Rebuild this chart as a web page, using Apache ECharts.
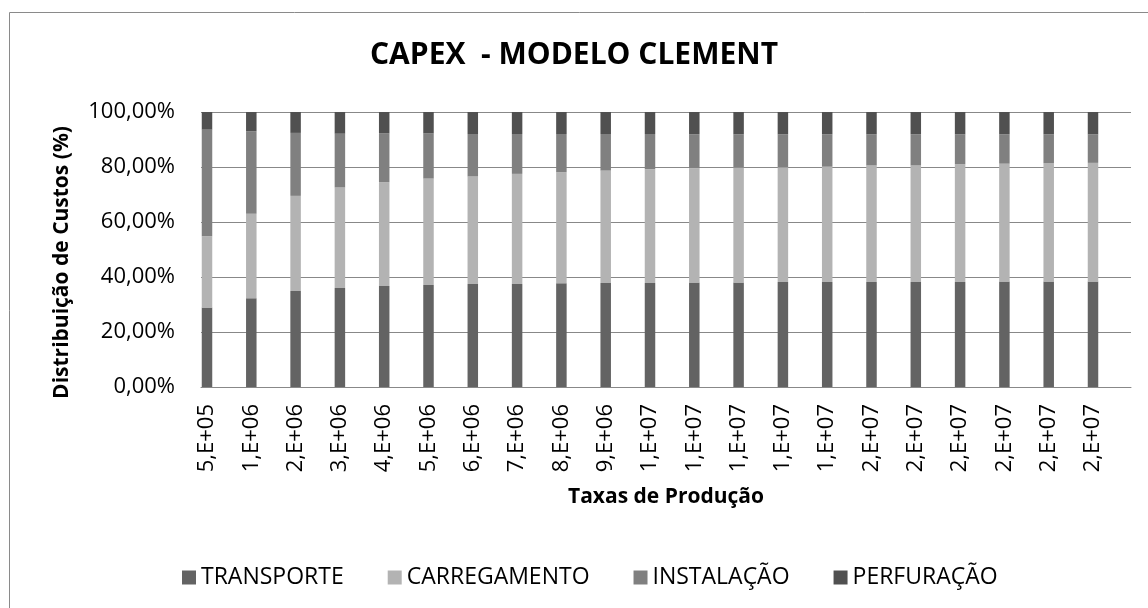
<!DOCTYPE html>
<html>
<head>
<meta charset="utf-8">
<title>CAPEX - MODELO CLEMENT</title>
<script src="https://cdn.jsdelivr.net/npm/echarts@6/dist/echarts.min.js"></script>
<style>
    html, body { margin: 0; padding: 0; background: #fff; }
    #chart { width: 1148px; height: 608px; }
</style>
</head>
<body>
<div id="chart"></div>
<script>
// taxas de producao (eixo x)
var categorias = ['5,E+05', '1,E+06', '2,E+06', '3,E+06', '4,E+06', '5,E+06', '6,E+06', '7,E+06', '8,E+06', '9,E+06',
    '1,E+07', '1,E+07', '1,E+07', '1,E+07', '1,E+07', '2,E+07', '2,E+07', '2,E+07', '2,E+07', '2,E+07', '2,E+07'];

// distribuicao de custos (%) por componente
var transporte = [28.9, 32.3, 34.9, 36.0, 36.7, 37.1, 37.5, 37.5, 37.7, 37.8, 37.8, 38.0, 38.0, 38.2, 38.2, 38.2, 38.2, 38.2, 38.4, 38.4, 38.4];
var carregamento = [25.9, 30.7, 34.6, 36.6, 37.7, 38.7, 39.1, 40.0, 40.4, 40.9, 41.4, 41.5, 41.8, 41.7, 41.9, 42.4, 42.4, 42.8, 42.8, 42.9, 43.1];
var instalacao = [38.8, 30.0, 22.9, 19.5, 17.8, 16.4, 15.4, 14.5, 13.9, 13.3, 12.8, 12.4, 12.1, 12.0, 11.8, 11.3, 11.3, 10.9, 10.7, 10.6, 10.4];
var perfuracao = [6.4, 7.0, 7.6, 7.9, 7.8, 7.8, 8.0, 8.0, 8.0, 8.0, 8.0, 8.1, 8.1, 8.1, 8.1, 8.1, 8.1, 8.1, 8.1, 8.1, 8.1];

var nomes = ['TRANSPORTE', 'CARREGAMENTO', 'INSTALAÇÃO', 'PERFURAÇÃO'];
var cores = ['#636363', '#b3b3b3', '#808080', '#505050'];
var ticksY = [0, 20, 40, 60, 80, 100];

var fonte = "'Open Sans', 'Liberation Sans', sans-serif";

var myChart = echarts.init(document.getElementById('chart'));

function serie(nome, dados, cor) {
    return {
        name: nome,
        type: 'bar',
        stack: 'total',
        xAxisIndex: 1,
        yAxisIndex: 1,
        barWidth: 10.5,
        data: dados,
        itemStyle: { color: cor },
        emphasis: { disabled: true }
    };
}

// grid 0: grade e eixo y ; grid 1: barras (deslocadas como no original)
var option = {
    animation: false,
    backgroundColor: '#fff',
    color: cores,
    textStyle: { fontFamily: fonte },
    title: {
        text: 'CAPEX  - MODELO CLEMENT',
        left: 'center',
        top: 35,
        textStyle: { fontFamily: fonte, fontSize: 30, fontWeight: 'bold', color: '#000' }
    },
    legend: {
        left: 182,
        top: 566,
        padding: 0,
        itemWidth: 14,
        itemHeight: 14,
        itemGap: 44,
        icon: 'rect',
        data: nomes,
        textStyle: { fontFamily: fonte, fontSize: 23, color: '#000' }
    },
    grid: [
        { left: 201, right: 17, top: 112, bottom: 221 },
        { left: 184.85, right: 32.85, top: 112, bottom: 221 }
    ],
    xAxis: [{
        gridIndex: 0,
        type: 'category',
        data: categorias,
        name: 'Taxas de Produção',
        nameLocation: 'middle',
        nameGap: 100,
        nameMoveOverlap: false,
        nameTextStyle: { fontFamily: fonte, fontSize: 21, fontWeight: 'bold', color: '#000' },
        axisLine: { lineStyle: { color: '#888', width: 1 } },
        axisTick: { show: false },
        axisLabel: { show: false }
    }, {
        gridIndex: 1,
        type: 'category',
        data: categorias,
        axisLine: { show: false },
        axisTick: { show: false },
        axisLabel: {
            interval: 0,
            rotate: 90,
            margin: 17,
            fontFamily: fonte,
            fontSize: 22,
            color: '#000'
        }
    }],
    yAxis: [{
        gridIndex: 0,
        type: 'value',
        min: ticksY[0],
        max: ticksY[ticksY.length - 1],
        interval: 20,
        name: 'Distribuição de Custos (%)',
        nameLocation: 'middle',
        nameGap: 128,
        nameMoveOverlap: false,
        nameTextStyle: { fontFamily: fonte, fontSize: 21, fontWeight: 'bold', color: '#000', padding: [0, 26, 0, 0] },
        axisLine: { show: false },
        axisTick: { show: false },
        splitLine: { lineStyle: { color: '#888', width: 1 } },
        axisLabel: {
            margin: 26,
            fontFamily: fonte,
            fontSize: 22,
            color: '#000',
            formatter: function (v) { return v + ',00%'; }
        }
    }, {
        gridIndex: 1,
        type: 'value',
        min: ticksY[0],
        max: ticksY[ticksY.length - 1],
        interval: 20,
        show: false,
        splitLine: { show: false }
    }],
    graphic: [{
        // moldura do grafico
        type: 'rect',
        silent: true,
        shape: { x: 9.5, y: 12.5, width: 1200, height: 700 },
        style: { fill: 'none', stroke: '#8a8a8a', lineWidth: 1 }
    }],
    series: [
        serie(nomes[0], transporte, cores[0]),
        serie(nomes[1], carregamento, cores[1]),
        serie(nomes[2], instalacao, cores[2]),
        serie(nomes[3], perfuracao, cores[3])
    ]
};

myChart.setOption(option);
</script>
</body>
</html>
